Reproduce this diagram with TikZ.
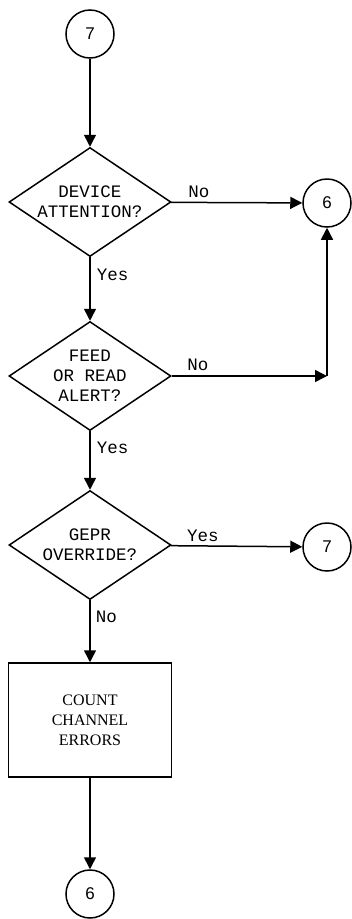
\documentclass[tikz,border=0pt]{standalone}
\usepackage{fontspec}
\newfontfamily\monof{Liberation Mono}
\newfontfamily\seriff{Liberation Serif}
\newfontfamily\sansf{Liberation Sans}
\usetikzlibrary{shapes.geometric,arrows.meta}
\begin{document}
\begin{tikzpicture}[x=1pt,y=-1pt,line width=1.5pt,
 conn/.style={circle,draw,minimum size=48pt,inner sep=0pt,font=\sansf\fontsize{17}{20}\selectfont},
 dec/.style={diamond,draw,aspect=1.49,minimum width=162pt,minimum height=109pt,inner sep=0pt,align=center,font=\monof\fontsize{17.5}{20}\selectfont},
 proc/.style={rectangle,draw,minimum width=163pt,minimum height=114pt,inner sep=0pt,align=center,font=\seriff\fontsize{16}{20}\selectfont},
 lbl/.style={font=\monof\fontsize{17.5}{20}\selectfont,inner sep=1pt},
 arr/.style={-{Triangle[length=12pt,width=12pt]}}]
\useasboundingbox (0,0) rectangle (352,919);
\node[conn] (c7a) at (90,34) {7};
\node[dec] (d1) at (90,202) {DEVICE\\ATTENTION?};
\node[conn] (c6a) at (327,203) {6};
\node[dec] (d2) at (90,376) {FEED\\OR READ\\ALERT?};
\node[dec] (d3) at (90,545) {GEPR\\OVERRIDE?};
\node[conn] (c7b) at (327,547) {7};
\node[proc] (box) at (90,720) {COUNT\\CHANNEL\\ERRORS};
\node[conn] (c6b) at (90,894) {6};
\coordinate (corner) at (327,376);
\draw[arr] (c7a) -- (d1);
\draw[arr] (d1) -- (c6a);
\draw[arr] (d1) -- (d2);
\draw[arr] (d2.east) -- (corner);
\draw[arr] (corner) -- (c6a);
\draw[arr] (d2) -- (d3);
\draw[arr] (d3) -- (c7b);
\draw[arr] (d3) -- (box);
\draw[arr] (box) -- (c6b);
\node[lbl] (l1) at (199,192) {No};
\node[lbl,anchor=west] (l2) at (95,275) {Yes};
\node[lbl] (l3) at (198,365) {No};
\node[lbl,anchor=west] (l4) at (95,448) {Yes};
\node[lbl] (l5) at (203,536) {Yes};
\node[lbl,anchor=west] (l6) at (94,617) {No};
\end{tikzpicture}
\end{document}
